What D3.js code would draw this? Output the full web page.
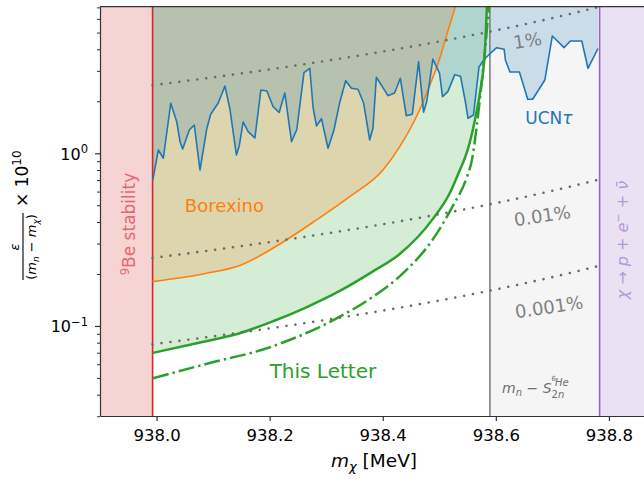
<!DOCTYPE html>
<html><head><meta charset="utf-8">
<script src="https://cdn.jsdelivr.net/npm/d3@7"></script>
<style>
body{margin:0;background:#fff}
text{font-family:"DejaVu Sans",sans-serif}
</style>
</head><body>
<svg id="chart" width="644" height="479"></svg>
<script>
// ---------- data ----------
const xTicks = [938.0, 938.2, 938.4, 938.6, 938.8];
const yMajorTicks = [0.1, 1];
const yMajorLabels = ["\u22121", "0"];
const yMinorTicks = [0.03,0.04,0.05,0.06,0.07,0.08,0.09,0.2,0.3,0.4,0.5,0.6,0.7,0.8,0.9,2,3,4,5,6,7];

const beStability = 937.993;
const heThreshold = 938.5895;
const decayThreshold = 938.7835;

const letterMass = [937.993, 938.077, 938.147, 938.206, 938.265, 938.324, 938.382, 938.430, 938.4887, 938.5187, 938.5364, 938.5453, 938.5541, 938.5630, 938.5718, 938.5807, 938.5842];
const letterVals = [0.0698, 0.0802, 0.0907, 0.1065, 0.1283, 0.1595, 0.2063, 0.261, 0.417, 0.589, 0.800, 0.939, 1.163, 1.559, 2.235, 3.965, 7.1];

const letterAltMass = [937.994, 938.094, 938.195, 938.324, 938.383, 938.442, 938.488, 938.523, 938.5488, 938.5577, 938.5665, 938.5736, 938.5807, 938.5860, 938.5886];
const letterAltVals = [0.0498, 0.061, 0.0743, 0.1132, 0.1478, 0.211, 0.315, 0.489, 0.729, 0.915, 1.458, 2.326, 3.861, 6.075, 7.1];

const borexinoMass = [937.993, 938.0886, 938.1474, 938.2238, 938.2828, 938.3416, 938.4004, 938.4298, 938.4651, 938.4828, 938.5004, 938.5146, 938.5287];
const borexinoVals = [0.1805, 0.2019, 0.2240, 0.3064, 0.4110, 0.5607, 0.8003, 1.088, 1.781, 2.453, 3.516, 5.04, 7.13];

const ucnMass = [937.9933, 938.0032, 938.012, 938.0251, 938.0357, 938.0415, 938.0462, 938.0579, 938.0667, 938.0768,
  938.0886, 938.0957, 938.1091, 938.1209, 938.1297, 938.1412, 938.1462, 938.1532, 938.162, 938.1739,
  938.1845, 938.1951, 938.2062, 938.2168, 938.2268, 938.2387, 938.248, 938.2607, 938.271, 938.2768,
  938.2828, 938.2916, 938.3033, 938.3137, 938.3239, 938.3345, 938.3446, 938.3562, 938.3663, 938.3769,
  938.3827, 938.3887, 938.4092, 938.421, 938.4311, 938.4417, 938.4523, 938.4634, 938.4722, 938.478,
  938.4886, 938.5004, 938.5057, 938.5151, 938.5274, 938.5375, 938.5463, 938.5508, 938.5605, 938.5702,
  938.5799, 938.5887, 938.6014, 938.6147, 938.6169, 938.6249, 938.6417, 938.6563, 938.6651, 938.6867,
  938.6999, 938.7206, 938.7317, 938.752, 938.7629, 938.7806];
const ucnVals = [0.700, 1.045, 0.936, 1.948, 1.524, 1.167, 1.059, 1.364, 1.458, 0.800,
  1.377, 1.682, 1.956, 2.453, 1.805, 0.978, 1.102, 1.518, 1.334, 1.226,
  2.326, 2.295, 1.861, 1.723, 2.235, 1.167, 1.373, 2.929, 3.106, 1.841,
  1.439, 1.586, 1.069, 1.364, 1.969, 2.633, 2.379, 2.348, 1.948, 1.194,
  1.395, 2.754, 2.156, 2.235, 2.719, 1.649, 1.684, 3.392, 1.730, 2.008,
  3.507, 2.906, 2.127, 2.274, 2.852, 2.795, 1.969, 1.595, 1.667, 3.160,
  3.516, 3.743, 4.088, 4.001, 3.469, 2.957, 2.957, 2.054, 2.054, 2.657,
  4.778, 4.088, 4.469, 4.469, 3.106, 4.044];

const brMass = [937.993, 938.1, 938.2, 938.3, 938.4, 938.5, 938.6, 938.7, 938.7835];
const br1pct = [2.476, 2.752, 3.060, 3.430, 3.881, 4.440, 5.148, 6.066, 7.057];
const br001pct = [0.2476, 0.2752, 0.3060, 0.3430, 0.3881, 0.4440, 0.5148, 0.6066, 0.7057];
const br0001pct = [0.0783, 0.0870, 0.0968, 0.1085, 0.1227, 0.1404, 0.1628, 0.1918, 0.2232];
const brLabels = ["1%", "0.01%", "0.001%"];
const brLabelPos = [[938.656, 4.5], [938.682, 0.435], [938.694, 0.129]];

// ---------- scales ----------
const svg = d3.select("#chart");
const L = 100, R = 644, T = 6.7, B = 416;
const xDom = [937.9, 938.862], yDom = [0.0301, 7.06];
const x = d3.scaleLinear().domain(xDom).range([L, R]);
const y = d3.scaleLog().domain(yDom).range([B, T]);

const zip = (a, b) => a.map((d, i) => [d, b[i]]);

svg.append("defs").append("clipPath").attr("id", "clip")
  .append("rect").attr("x", L).attr("y", T).attr("width", R - L).attr("height", B - T);
const plot = svg.append("g").attr("clip-path", "url(#clip)");

// regions
plot.append("rect").attr("x", x(xDom[0])).attr("y", T).attr("width", x(beStability) - x(xDom[0])).attr("height", B - T).attr("fill", "#f7d4d4");
plot.append("rect").attr("x", x(heThreshold)).attr("y", T).attr("width", x(decayThreshold) - x(heThreshold)).attr("height", B - T).attr("fill", "#f5f5f5");
plot.append("rect").attr("x", x(decayThreshold)).attr("y", T).attr("width", x(xDom[1]) - x(decayThreshold)).attr("height", B - T).attr("fill", "#eae1f2");

// fills
const areaTop = (curve) => d3.area().x(d => x(d[0])).y0(y(yDom[1]) - 5).y1(d => y(d[1])).curve(curve);
plot.append("path").datum(zip(letterMass, letterVals)).attr("d", areaTop(d3.curveMonotoneX)).attr("fill", "#2ca02c").attr("fill-opacity", 0.2);
plot.append("path").datum(zip(borexinoMass, borexinoVals)).attr("d", areaTop(d3.curveMonotoneX)).attr("fill", "#ff7f0e").attr("fill-opacity", 0.2);
plot.append("path").datum(zip(ucnMass, ucnVals)).attr("d", areaTop(d3.curveLinear)).attr("fill", "#1f77b4").attr("fill-opacity", 0.2);

// vertical boundary lines
[[beStability, "#d62728"], [heThreshold, "#7f7f7f"], [decayThreshold, "#9467bd"]].forEach(([v, c]) => {
  plot.append("line").attr("x1", x(v)).attr("x2", x(v)).attr("y1", T).attr("y2", B).attr("stroke", c).attr("stroke-width", 1.6);
});

// curves
const line = (curve) => d3.line().x(d => x(d[0])).y(d => y(d[1])).curve(curve);
plot.append("path").datum(zip(borexinoMass, borexinoVals)).attr("d", line(d3.curveMonotoneX)).attr("fill", "none").attr("stroke", "#ff7f0e").attr("stroke-width", 1.6);
plot.append("path").datum(zip(ucnMass, ucnVals)).attr("d", line(d3.curveLinear)).attr("fill", "none").attr("stroke", "#1f77b4").attr("stroke-width", 1.6).attr("stroke-linejoin", "round");
plot.append("path").datum(zip(letterMass, letterVals)).attr("d", line(d3.curveMonotoneX)).attr("fill", "none").attr("stroke", "#2ca02c").attr("stroke-width", 2.5);
plot.append("path").datum(zip(letterAltMass, letterAltVals)).attr("d", line(d3.curveMonotoneX)).attr("fill", "none").attr("stroke", "#2ca02c").attr("stroke-width", 2.5).attr("stroke-dasharray", "16,4,2.5,4");

// branching-ratio contours
[br1pct, br001pct, br0001pct].forEach(vals => {
  plot.append("path").datum(zip(brMass, vals)).attr("d", line(d3.curveMonotoneX)).attr("fill", "none")
    .attr("stroke", "#6a6a6a").attr("stroke-width", 2.6).attr("stroke-linecap", "round").attr("stroke-dasharray", "0.01,9");
});
brLabels.forEach((t, i) => {
  const [m, v] = brLabelPos[i];
  svg.append("text").attr("transform", `translate(${x(m)},${y(v)}) rotate(-8.5)`)
    .attr("text-anchor", "middle").attr("dominant-baseline", "central")
    .style("font-size", "18px").attr("fill", "#7f7f7f").text(t);
});

// labels inside
svg.append("text").attr("x", x(938.05)).attr("y", y(0.5) + 7).style("font-size", "18px").attr("fill", "#ff7f0e").text("Borexino");
svg.append("text").attr("x", x(938.2)).attr("y", y(0.05)).style("font-size", "20px").attr("fill", "#2ca02c").text("This Letter");
const ucnT = svg.append("text").attr("x", x(938.652)).attr("y", y(1.6) + 6).style("font-size", "17px").attr("fill", "#1f77b4");
ucnT.append("tspan").text("UCN");
ucnT.append("tspan").style("font-style", "italic").text("\u03c4");

// m_n - S_2n^6He
const mlab = svg.append("g").attr("fill", "#6f6f6f");
const tm = mlab.append("text").attr("x", 502).attr("y", 393).style("font-size", "14px");
tm.append("tspan").style("font-style", "italic").text("m");
tm.append("tspan").style("font-style", "italic").style("font-size", "10px").attr("dy", 3).text("n");
tm.append("tspan").attr("dy", -3).text(" \u2212 ");
tm.append("tspan").style("font-style", "italic").text("S");
mlab.append("text").attr("x", 551.5).attr("y", 381).style("font-size", "7px").text("6");
mlab.append("text").attr("x", 555).attr("y", 386).style("font-size", "10px").style("font-style", "italic").text("He");
mlab.append("text").attr("x", 551.5).attr("y", 397.5).style("font-size", "10px").text("2").append("tspan").style("font-style", "italic").text("n");

// rotated region labels
const be = svg.append("text").attr("transform", "translate(135,224) rotate(-90)").attr("text-anchor", "middle")
  .style("font-size", "17px").attr("fill", "#e5676f");
be.append("tspan").style("font-size", "11.5px").attr("dy", -6.5).text("9");
be.append("tspan").attr("dy", 6.5).text("Be stability");

const dec = svg.append("text").attr("transform", "translate(628,240) rotate(-90)").attr("text-anchor", "middle")
  .style("font-size", "16px").attr("fill", "#b598d5");
dec.append("tspan").style("font-style", "italic").text("\u03c7");
dec.append("tspan").text(" \u2192 ");
dec.append("tspan").style("font-style", "italic").text("p");
dec.append("tspan").text(" + ");
dec.append("tspan").style("font-style", "italic").text("e");
dec.append("tspan").style("font-size", "11px").attr("dy", -6).text("\u2212");
dec.append("tspan").attr("dy", 6).text(" + ");
dec.append("tspan").style("font-style", "italic").text("\u03bd\u0304");

// ---------- axes ----------
const xAxis = svg.append("g").attr("transform", `translate(0,${B})`)
  .call(d3.axisBottom(x).tickValues(xTicks).tickFormat(d3.format(".1f")).tickSizeInner(5).tickSizeOuter(0).tickPadding(8));
xAxis.selectAll("text").style("font-size", "16.5px").attr("fill", "#000");
xAxis.select(".domain").attr("stroke", "#333").attr("stroke-width", 1.2);
xAxis.selectAll(".tick line").attr("stroke", "#333").attr("stroke-width", 1.2);

const yAxis = svg.append("g").attr("transform", `translate(${L},0)`)
  .call(d3.axisLeft(y).tickValues(yMajorTicks).tickFormat(() => "").tickSizeInner(5).tickSizeOuter(0));
yAxis.select(".domain").attr("stroke", "#333").attr("stroke-width", 1.2);
yAxis.selectAll(".tick line").attr("stroke", "#333").attr("stroke-width", 1.2);
const yMinor = svg.append("g").attr("transform", `translate(${L},0)`)
  .call(d3.axisLeft(y).tickValues(yMinorTicks).tickFormat(() => "").tickSizeInner(3).tickSizeOuter(0));
yMinor.select(".domain").remove();
yMinor.selectAll(".tick line").attr("stroke", "#333").attr("stroke-width", 1);

yMajorTicks.forEach((v, i) => {
  const t = svg.append("text").attr("x", 88).attr("y", y(v) + 6.3).attr("text-anchor", "end").style("font-size", "16px");
  t.append("tspan").text("10");
  t.append("tspan").style("font-size", "11.5px").attr("dy", -6.5).text(yMajorLabels[i]);
});

// top spine
svg.append("line").attr("x1", L).attr("x2", R).attr("y1", T).attr("y2", T).attr("stroke", "#333").attr("stroke-width", 1.2);

// x label
const xl = svg.append("text").attr("x", 374).attr("y", 467).attr("text-anchor", "middle").style("font-size", "18.5px");
xl.append("tspan").style("font-style", "italic").text("m");
xl.append("tspan").style("font-style", "italic").style("font-size", "13px").attr("dy", 4).text("\u03c7");
xl.append("tspan").attr("dy", -4).text(" [MeV]");

// y label
const yl = svg.append("g").attr("transform", "translate(28,211) rotate(-90)");
yl.append("text").attr("x", -36).attr("y", -9).attr("text-anchor", "middle").style("font-size", "13px").style("font-style", "italic").text("\u03b5");
yl.append("line").attr("x1", -69).attr("x2", -2).attr("y1", -5).attr("y2", -5).attr("stroke", "#000").attr("stroke-width", 1.1);
const den = yl.append("text").attr("x", -36).attr("y", 8).attr("text-anchor", "middle").style("font-size", "13px");
den.append("tspan").text("(");
den.append("tspan").style("font-style", "italic").text("m");
den.append("tspan").style("font-style", "italic").style("font-size", "9px").attr("dy", 2.5).text("n");
den.append("tspan").attr("dy", -2.5).text(" \u2212 ");
den.append("tspan").style("font-style", "italic").text("m");
den.append("tspan").style("font-style", "italic").style("font-size", "9px").attr("dy", 2.5).text("\u03c7");
den.append("tspan").attr("dy", -2.5).text(")");
const tenl = yl.append("text").attr("x", 4).attr("y", 0).style("font-size", "17px");
tenl.append("tspan").text("\u00d7 10");
tenl.append("tspan").style("font-size", "12px").attr("dy", -7).text("10");
</script>
</body></html>
